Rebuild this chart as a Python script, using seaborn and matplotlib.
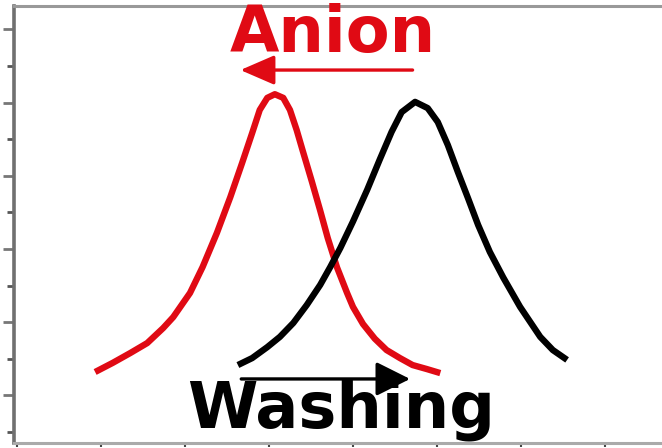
import numpy as np
import pandas as pd
import matplotlib
matplotlib.use("Agg")
import matplotlib.pyplot as plt
from matplotlib.ticker import MultipleLocator, FixedLocator
import seaborn as sns

# curves (arbitrary units)
anion_x = [0.93, 1.14, 1.35, 1.55, 1.74, 1.86, 2.06, 2.21, 2.38, 2.54, 2.68,
           2.80, 2.89, 2.98, 3.07, 3.17, 3.25, 3.33, 3.40, 3.51, 3.61, 3.70,
           3.81, 3.93, 4.00, 4.12, 4.26, 4.40, 4.56, 4.71, 4.88, 5.04]
anion_y = [1.64, 1.89, 2.16, 2.43, 2.84, 3.14, 3.80, 4.51, 5.44, 6.42, 7.35,
           8.17, 8.80, 9.13, 9.23, 9.13, 8.80, 8.25, 7.70, 6.85, 6.05, 5.30,
           4.50, 3.80, 3.42, 2.95, 2.55, 2.24, 2.02, 1.83, 1.72, 1.61]
washing_x = [2.63, 2.80, 2.98, 3.13, 3.29, 3.45, 3.61, 3.73, 3.85, 4.00,
             4.17, 4.32, 4.46, 4.58, 4.74, 4.89, 5.01, 5.13, 5.25, 5.37,
             5.49, 5.63, 5.79, 5.99, 6.11, 6.23, 6.38, 6.55]
washing_y = [1.83, 2.02, 2.32, 2.60, 2.98, 3.47, 4.02, 4.51, 5.03, 5.75,
             6.62, 7.45, 8.20, 8.74, 9.02, 8.85, 8.47, 7.84, 7.10, 6.39,
             5.66, 4.92, 4.22, 3.42, 3.01, 2.60, 2.24, 1.97]

# arrows: (start x, end x, y)
anion_arrow = (4.71, 2.66, 9.89)
washing_arrow = (2.67, 4.68, 1.45)
labels = ["Anion", "Washing"]

RED = "#e00a14"

sns.set_style("ticks")
fig = plt.figure(figsize=(6.62, 4.48), dpi=100)
ax = fig.add_axes([14 / 662, 5 / 448, 648 / 662, 437 / 448])

sns.lineplot(x=anion_x, y=anion_y, ax=ax, color=RED, lw=4.6,
             sort=False, estimator=None, solid_capstyle="butt",
             solid_joinstyle="round")
sns.lineplot(x=washing_x, y=washing_y, ax=ax, color="black", lw=4.6,
             sort=False, estimator=None, solid_capstyle="butt",
             solid_joinstyle="round")

# shift arrows
ax.annotate("", xy=(anion_arrow[1], anion_arrow[2]),
            xytext=(anion_arrow[0], anion_arrow[2]),
            arrowprops=dict(arrowstyle="-|>,head_length=0.6,head_width=0.26",
                            color=RED, lw=2.4, mutation_scale=35,
                            shrinkA=0, shrinkB=0))
ax.annotate("", xy=(washing_arrow[1], washing_arrow[2]),
            xytext=(washing_arrow[0], washing_arrow[2]),
            arrowprops=dict(arrowstyle="-|>,head_length=0.6,head_width=0.3",
                            color="black", lw=2.4, mutation_scale=35,
                            shrinkA=0, shrinkB=0))

ax.text(3.76, 10.38, labels[0], color=RED, fontsize=46, fontweight="bold",
        ha="center", va="baseline")
ax.text(3.86, 0.11, labels[1], color="black", fontsize=46, fontweight="bold",
        ha="center", va="baseline")

ax.set_xlim(-0.036, 7.68)
ax.set_ylim(-0.30, 11.64)

ax.xaxis.set_major_locator(MultipleLocator(1))
ax.yaxis.set_major_locator(FixedLocator([1, 3, 5, 7, 9, 11]))
ax.yaxis.set_minor_locator(FixedLocator([0, 2, 4, 6, 8, 10]))
ax.tick_params(axis="x", direction="out", length=3, width=1.5, color="#444444",
               labelbottom=False)
ax.tick_params(axis="y", which="major", direction="out", length=8, width=2,
               color="#777777", labelleft=False)
ax.tick_params(axis="y", which="minor", direction="out", length=5, width=2,
               color="#555555")

ax.spines["right"].set_visible(False)
ax.spines["left"].set_color("#707070")
ax.spines["left"].set_linewidth(2.6)
ax.spines["top"].set_color("#999999")
ax.spines["top"].set_linewidth(2.2)
ax.spines["bottom"].set_color("#aaaaaa")
ax.spines["bottom"].set_linewidth(2.2)
ax.set_xlabel("")
ax.set_ylabel("")

fig.savefig("out.png", dpi=100)
